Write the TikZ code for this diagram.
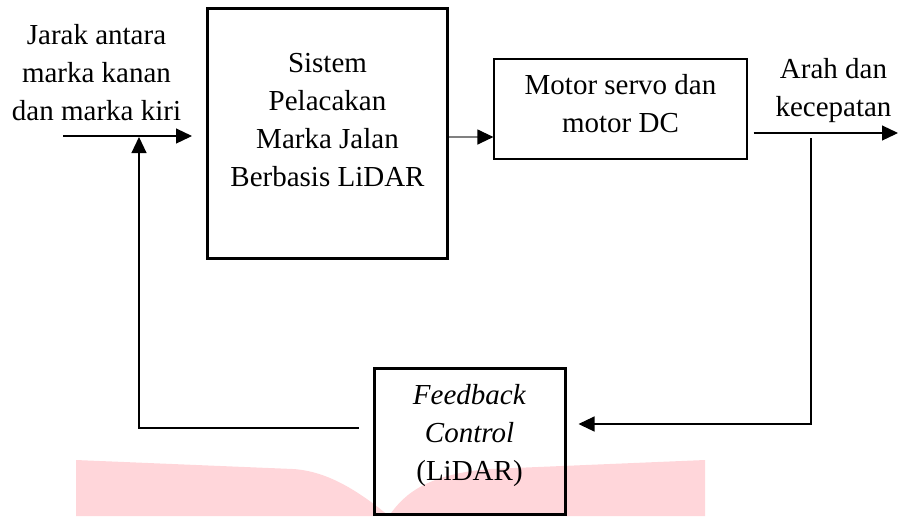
\documentclass[tikz,border=0pt]{standalone}
\usepackage{fontspec}
\setmainfont{Liberation Serif}
\usetikzlibrary{arrows.meta,positioning,calc}
\definecolor{wmpink}{RGB}{255,214,218}
\tikzset{
  txt/.style={align=center, inner sep=0pt, font=\fontsize{14.5}{19}\selectfont},
  heavybox/.style={draw, line width=1.5pt, inner sep=0pt},
  lightbox/.style={draw, line width=0.6pt, inner sep=0pt},
  wire/.style={line width=0.6pt},
  flow/.style={wire, -{Triangle[length=8pt,width=7.5pt,color=black]}},
}
\begin{document}
\begin{tikzpicture}[x=0.5pt,y=-0.5pt]
\useasboundingbox (0,0) rectangle (898,516);

% light pink backdrop at the bottom
\fill[wmpink] (76,516) -- (76,460) -- (293,469)
  .. controls (325,471) and (355,488) .. (389,516)
  .. controls (405,492) and (430,474) .. (490,469)
  -- (705,460) -- (705,516) -- cycle;

% blocks
\node[heavybox, minimum width=120pt, minimum height=125pt] (sys) at (327.5,133) {};
\node[txt] (systxt) at (327.5,120) {Sistem\\Pelacakan\\Marka Jalan\\Berbasis LiDAR};

\node[lightbox, minimum width=126.5pt, minimum height=50pt] (motor) at (620.5,109) {};
\node[txt] (motortxt) at (620.5,103.5) {Motor servo dan\\motor DC};

\node[heavybox, minimum width=95.5pt, minimum height=73pt] (fb) at (469.5,441) {};
\node[txt] (fbtxt) at (469.5,435.5) {\textit{Feedback}\\\textit{Control}\\(LiDAR)};

% signal labels
\node[txt] (inlbl) at (96.5,73) {Jarak antara\\marka kanan\\dan marka kiri};
\node[txt] (outlbl) at (833.5,91) {Arah dan\\kecepatan};

% connector end points
\coordinate (inS) at (63,136);
\coordinate (outE) at (898,133);
\coordinate (fbTop) at (811,138);
\coordinate (retX) at (139,137);
\coordinate (motorIn) at ([yshift=-14pt]motor.west);

% input into the tracking system
\draw[flow, shorten >=7pt] (inS) -- (sys.west |- inS);
% tracking system to the motors (grey line, black head)
\draw[flow, draw=gray] (sys.east |- motorIn) -- (motorIn);
% output of the motors
\draw[flow, shorten <=3pt] ([yshift=-12pt]motor.east) -- (outE);
% feedback path
\draw[flow, shorten >=6pt] (fbTop) |- ([yshift=8.5pt]fb.east);
\draw[flow, shorten <=7pt] ([yshift=6.5pt]fb.west) -| (retX);
\end{tikzpicture}
\end{document}
